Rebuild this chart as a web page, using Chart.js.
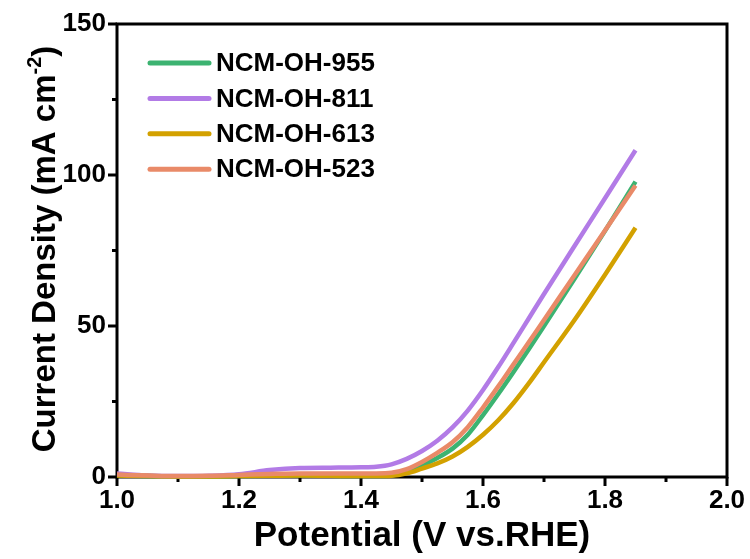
<!DOCTYPE html>
<html>
<head>
<meta charset="utf-8">
<script src="https://cdn.jsdelivr.net/npm/chart.js@4/dist/chart.umd.min.js"></script>
<style>
  html, body { margin: 0; padding: 0; background: #fff; }
  #wrap { width: 750px; height: 559px; }
</style>
</head>
<body>
<div id="wrap"><canvas id="lsv"></canvas></div>
<script>
// potential (V vs. RHE)
const potential = [1.00, 1.05, 1.10, 1.15, 1.20, 1.25, 1.30, 1.35, 1.40, 1.425, 1.45, 1.475,
                   1.50, 1.525, 1.55, 1.575, 1.60, 1.625, 1.65, 1.675, 1.70, 1.75, 1.80, 1.85];
// current density (mA cm-2) for each sample
const ncm955 = [0.6, 0.3, 0.2, 0.2, 0.3, 0.4, 0.5, 0.4, 0.3, 0.3, 0.5, 1.6,
                3.8, 6.3, 9.4, 14.0, 20.5, 27.5, 34.8, 42.3, 50.0, 65.6, 81.5, 97.8];
const ncm811 = [1.2, 0.5, 0.3, 0.4, 0.9, 2.3, 3.0, 3.1, 3.2, 3.4, 4.2, 6.0,
                8.6, 12.0, 16.4, 22.0, 28.8, 36.4, 44.4, 52.5, 60.6, 76.5, 92.3, 108.2];
const ncm613 = [0.5, 0.3, 0.2, 0.2, 0.3, 0.4, 0.5, 0.4, 0.3, 0.3, 0.4, 1.2,
                2.8, 4.5, 6.8, 10.0, 14.0, 18.8, 24.5, 31.0, 38.0, 52.0, 67.0, 82.5];
const ncm523 = [0.8, 0.5, 0.3, 0.4, 0.7, 1.0, 1.2, 1.2, 1.2, 1.2, 1.4, 2.6,
                5.0, 8.0, 11.5, 16.5, 23.0, 30.0, 37.3, 44.6, 52.0, 66.8, 81.6, 96.5];

const seriesNames = ['NCM-OH-955', 'NCM-OH-811', 'NCM-OH-613', 'NCM-OH-523'];
const seriesColors = ['#3cb371', '#b27be6', '#d3a100', '#e98a68'];
const seriesValues = [ncm955, ncm811, ncm613, ncm523];

const FONT = "'Liberation Sans', Arial, sans-serif";

function toPoints(ys) {
    return potential.map((x, i) => ({ x: x, y: ys[i] }));
}

// black frame + outward tick marks (major longer than minor)
const framePlugin = {
    id: 'frame',
    beforeDatasetsDraw(chart) {
        const ctx = chart.ctx;
        const a = chart.chartArea;
        const xs = chart.scales.x, ys = chart.scales.y;
        ctx.save();
        ctx.strokeStyle = '#000';
        ctx.lineWidth = 3;
        ctx.strokeRect(a.left, a.top, a.right - a.left, a.bottom - a.top);
        xs.ticks.forEach((t) => {
            const px = xs.getPixelForValue(t.value);
            const major = Math.abs(Math.round(t.value * 10) % 2) === 0;
            ctx.beginPath();
            ctx.moveTo(px, a.bottom);
            ctx.lineTo(px, a.bottom + (major ? 9 : 5));
            ctx.stroke();
        });
        ys.ticks.forEach((t) => {
            const py = ys.getPixelForValue(t.value);
            const major = t.value % 50 === 0;
            ctx.beginPath();
            ctx.moveTo(a.left, py);
            ctx.lineTo(a.left - (major ? 9 : 5), py);
            ctx.stroke();
        });
        ctx.restore();
    }
};

// y title with a real superscript
const yTitlePlugin = {
    id: 'ytitle',
    afterDraw(chart) {
        const ctx = chart.ctx;
        const main = 'bold 33px ' + FONT;
        const sup = 'bold 20px ' + FONT;
        const p1 = 'Current Density (mA cm', p2 = '-2', p3 = ')';
        ctx.save();
        ctx.font = main; const w1 = ctx.measureText(p1).width; const w3 = ctx.measureText(p3).width;
        ctx.font = sup; const w2 = ctx.measureText(p2).width;
        const total = w1 + w2 + w3;
        const cy = 249;
        ctx.translate(46, cy);
        ctx.rotate(-Math.PI / 2);
        ctx.fillStyle = '#000';
        ctx.textBaseline = 'middle';
        ctx.textAlign = 'left';
        let x = -total / 2;
        ctx.font = main; ctx.fillText(p1, x, 0); x += w1;
        ctx.font = sup; ctx.fillText(p2, x, -11); x += w2;
        ctx.font = main; ctx.fillText(p3, x, 0);
        ctx.restore();
    }
};

// legend drawn inside the plot, top-left
const legendPlugin = {
    id: 'insideLegend',
    afterDraw(chart) {
        const ctx = chart.ctx;
        ctx.save();
        ctx.font = 'bold 26px ' + FONT;
        ctx.textBaseline = 'middle';
        ctx.textAlign = 'left';
        chart.data.datasets.forEach((ds, i) => {
            const y = 63 + i * 35.4;
            ctx.strokeStyle = ds.borderColor;
            ctx.lineWidth = 5;
            ctx.lineCap = 'round';
            ctx.beginPath();
            ctx.moveTo(150, y);
            ctx.lineTo(209, y);
            ctx.stroke();
            ctx.fillStyle = '#000';
            ctx.fillText(ds.label, 216, y + 1);
        });
        ctx.restore();
    }
};

const datasets = seriesNames.map((name, i) => ({
    label: name,
    data: toPoints(seriesValues[i]),
    borderColor: seriesColors[i],
    backgroundColor: seriesColors[i],
    borderWidth: 4.5,
    pointRadius: 0,
    fill: false,
    cubicInterpolationMode: 'monotone',
    clip: false,
    order: [4, 3, 2, 1][i]
}));

new Chart(document.getElementById('lsv'), {
    type: 'line',
    data: { datasets: datasets },
    plugins: [framePlugin, yTitlePlugin, legendPlugin],
    options: {
        responsive: true,
        maintainAspectRatio: false,
        animation: false,
        layout: { padding: { top: 24, right: 23, left: 0, bottom: 0 } },
        plugins: {
            legend: { display: false },
            tooltip: { enabled: false }
        },
        scales: {
            x: {
                type: 'linear',
                min: 1.0,
                max: 2.0,
                border: { display: false },
                grid: { display: true, drawOnChartArea: false, drawTicks: true, tickLength: 8, tickColor: 'rgba(0,0,0,0)' },
                ticks: {
                    stepSize: 0.1,
                    autoSkip: false,
                    maxRotation: 0,
                    padding: 0,
                    color: '#000',
                    font: { family: FONT, size: 26, weight: 'bold' },
                    callback: (v) => (Math.round(v * 10) % 2 === 0 ? v.toFixed(1) : '')
                },
                title: {
                    display: true,
                    text: 'Potential (V vs.RHE)',
                    color: '#000',
                    font: { family: FONT, size: 35, weight: 'bold' },
                    padding: { top: 0, bottom: 2 }
                },
                afterFit: (s) => { s.height = 82; }
            },
            y: {
                min: 0,
                max: 150,
                border: { display: false },
                grid: { display: true, drawOnChartArea: false, drawTicks: true, tickLength: 8, tickColor: 'rgba(0,0,0,0)' },
                ticks: {
                    stepSize: 25,
                    autoSkip: false,
                    padding: 3,
                    color: '#000',
                    font: { family: FONT, size: 26, weight: 'bold' },
                    callback: (v) => (v % 50 === 0 ? String(v) : '')
                },
                afterFit: (s) => { s.width = 117; }
            }
        }
    }
});
</script>
</body>
</html>
